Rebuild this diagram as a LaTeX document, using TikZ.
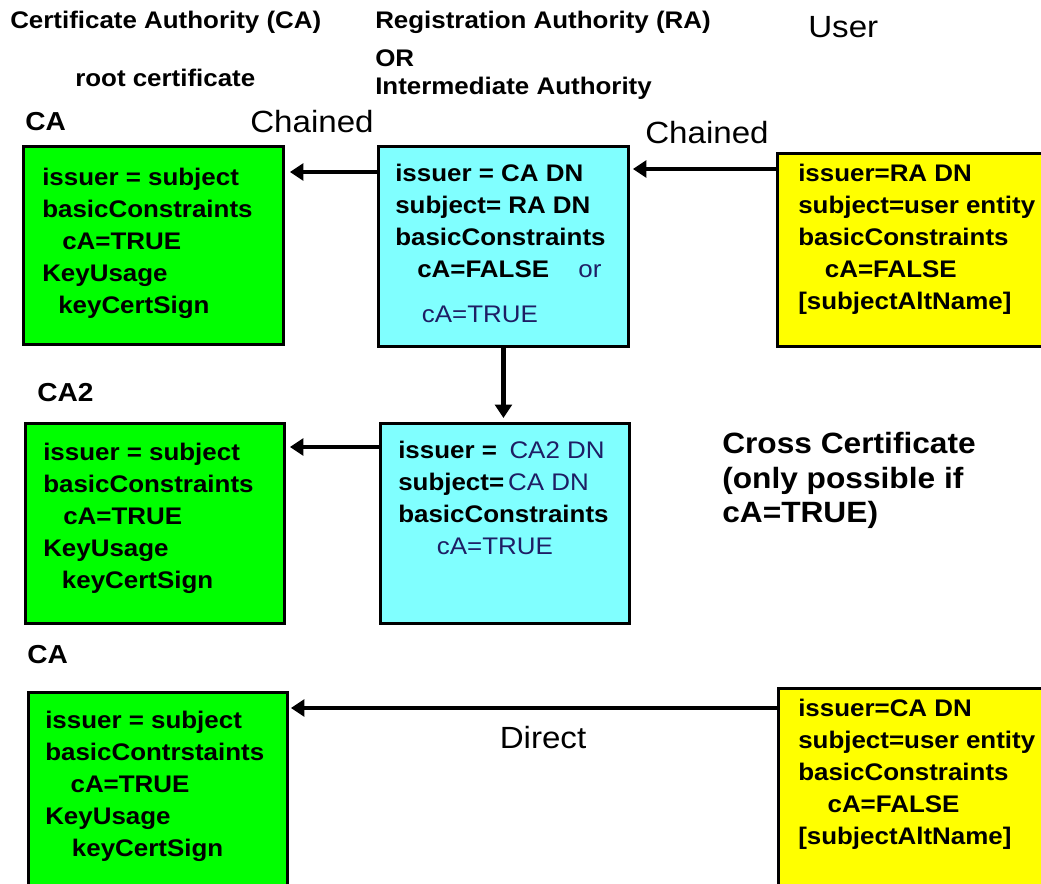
\documentclass[tikz,border=0pt]{standalone}
\usepackage{fontspec}
\setmainfont{Liberation Sans}[FakeStretch=1.08]
\usetikzlibrary{arrows.meta, calc, positioning}

\definecolor{rootgreen}{RGB}{0,255,0}
\definecolor{racyan}{RGB}{128,255,255}
\definecolor{useryellow}{RGB}{255,255,0}
\definecolor{dnblue}{RGB}{30,30,100}

\begin{document}
\begin{tikzpicture}[x=0.75pt, y=-0.75pt,
    certbox/.style n args={2}{draw=black, line width=2.2pt, inner sep=0pt,
      anchor=north west, minimum width=#1*0.75pt, minimum height=#2*0.75pt},
    certtext/.style={anchor=north west, inner sep=0pt, align=left,
      font=\fontsize{18}{24}\selectfont\bfseries},
    head/.style={anchor=west, inner sep=0pt, font=\fontsize{18}{22}\selectfont\bfseries},
    tag/.style={anchor=west, inner sep=0pt, font=\fontsize{23}{26}\selectfont},
    conn/.style={line width=3.4pt, -{Triangle[length=10pt,width=12.5pt]}}]
  \useasboundingbox (0,0) rectangle (1041,884);

  % column headings
  \node[head] (cahead) at (10,22) {Certificate Authority (CA)};
  \node[head] (rahead) at (375,22) {Registration Authority (RA)};
  \node[head] (orhead) at (375,58) {OR};
  \node[head] (imhead) at (375,88) {Intermediate Authority};
  \node[tag] (userhead) at (808,27) {User};
  \node[head] (roothead) at (75,78) {root certificate};

  % row labels
  \node[head, font=\fontsize{19.5}{22}\selectfont\bfseries] (calab1) at (25,122) {CA};
  \node[head, font=\fontsize{19.5}{22}\selectfont\bfseries] (calab2) at (37,393) {CA2};
  \node[head, font=\fontsize{19.5}{22}\selectfont\bfseries] (calab3) at (27,655) {CA};

  % certificate boxes
  \node[certbox={260}{198}, fill=rootgreen] (ca1) at (22,145) {};
  \node[certbox={250}{200}, fill=racyan] (ra1) at (377,145) {};
  \node[certbox={275}{193}, fill=useryellow] (usr1) at (776,152) {};
  \node[certbox={259}{200}, fill=rootgreen] (ca2) at (24,422) {};
  \node[certbox={249}{200}, fill=racyan] (ra2) at (379,422) {};
  \node[certbox={259}{215}, fill=rootgreen] (ca3) at (27,691) {};
  \node[certbox={275}{215}, fill=useryellow] (usr2) at (777,687) {};

  % box contents
  \node[certtext] (ca1t) at ($(ca1.north west)+(20,23)$)
    {issuer = subject\\basicConstraints\\\hspace{15pt}cA=TRUE\\KeyUsage\\\hspace{12pt}keyCertSign};
  \node[certtext] (ra1t) at ($(ra1.north west)+(18,19)$)
    {issuer = CA DN\\subject= RA DN\\basicConstraints\\
     \hspace{16.5pt}cA=FALSE\hspace{22pt}{\mdseries\color{dnblue}or}\\[10pt]
     \hspace{20pt}{\mdseries\color{dnblue}cA=TRUE}};
  \node[certtext] (usr1t) at ($(usr1.north west)+(22,12)$)
    {issuer=RA DN\\subject=user entity\\basicConstraints\\\hspace{20pt}cA=FALSE\\{[}subjectAltName{]}};
  \node[certtext] (ca2t) at ($(ca2.north west)+(19,21)$)
    {issuer = subject\\basicConstraints\\\hspace{15pt}cA=TRUE\\KeyUsage\\\hspace{14pt}keyCertSign};
  \node[certtext] (ra2t) at ($(ra2.north west)+(19,19)$)
    {issuer = \hspace{4pt}{\mdseries\color{dnblue}CA2 DN}\\subject=\hspace{3pt}{\mdseries\color{dnblue}CA DN}\\basicConstraints\\
     \hspace{29pt}{\mdseries\color{dnblue}cA=TRUE}};
  \node[certtext] (ca3t) at ($(ca3.north west)+(18,20)$)
    {issuer = subject\\basicContrstaints\\\hspace{19pt}cA=TRUE\\KeyUsage\\\hspace{20pt}keyCertSign};
  \node[certtext] (usr2t) at ($(usr2.north west)+(21,12)$)
    {issuer=CA DN\\subject=user entity\\basicConstraints\\\hspace{22pt}cA=FALSE\\{[}subjectAltName{]}};

  % connectors
  \draw[conn] ($(ra1.north west)+(0,27)$) -- ($(ca1.north east)+(5,27)$);
  \draw[conn] ($(usr1.north west)+(0,17)$) -- ($(ra1.north east)+(3,24)$);
  \draw[conn] (ra1.south) -- ($(ra1.south |- ra2.north)+(0,-4)$);
  \draw[conn] ($(ra2.north west)+(0,25)$) -- ($(ca2.north east)+(4,25)$);
  \draw[conn] ($(usr2.north west)+(0,21)$) -- ($(ca3.north east)+(2,17)$);

  % connector labels
  \node[tag] (chain1) at (250,122) {Chained};
  \node[tag] (chain2) at (645,133) {Chained};
  \node[tag, anchor=center] (direct) at (543,738) {Direct};
  \node[anchor=north west, inner sep=0pt, align=left,
        font=\fontsize{22}{26}\selectfont\bfseries] (cross) at (722,432)
    {Cross Certificate\\(only possible if\\cA=TRUE)};
\end{tikzpicture}
\end{document}
